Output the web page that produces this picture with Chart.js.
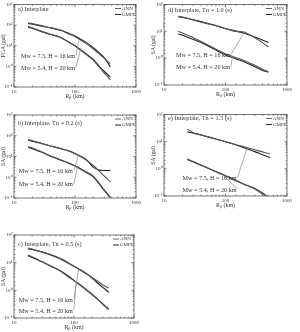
<!DOCTYPE html>
<html>
<head>
<meta charset="utf-8">
<script src="https://cdn.jsdelivr.net/npm/chart.js@4.4.0/dist/chart.umd.min.js"></script>
<style>
  body { margin: 0; background: #fff; width: 300px; height: 332px; position: relative; overflow: hidden; }
  canvas { position: absolute; }
</style>
</head>
<body>
<canvas id="pa" width="150" height="110" style="left:0;top:0"></canvas>
<canvas id="pd" width="150" height="110" style="left:150px;top:0"></canvas>
<canvas id="pb" width="150" height="110" style="left:0;top:110px"></canvas>
<canvas id="pe" width="150" height="110" style="left:150px;top:110px"></canvas>
<canvas id="pc" width="150" height="112" style="left:0;top:220px"></canvas>
<script>
// distances (km)
const rABC = [17, 20, 30, 40, 60, 80, 100, 150, 200, 250, 300, 380];
const rD = [17, 20, 30, 40, 60, 80, 100, 150, 200, 300, 400, 500];
const rE = [24, 30, 40, 60, 80, 100, 150, 200, 300, 400, 530];

// a) PGA
const aAnn75 = [128, 118, 90, 75, 55, 37, 27.5, 13, 7, 4, 2.5, 1.35];
const aGmpe75 = [118, 110, 86, 73, 55, 39, 30, 15, 8, 4.5, 2.7, 0.95];
const aAnn54 = [88, 75, 47, 36, 24.5, 14.5, 9.6, 3.9, 1.95, 0.91, 0.49, 0.22];
const aGmpe54 = [80, 70, 45, 35, 24, 15, 10, 4.2, 2.1, 1.0, 0.58, 0.3];

// b) Tn = 0.2 s
const bAnn75 = [66, 58, 41, 32, 23, 18, 13.5, 7, 3.7, 1.95, 1.15, 0.6];
const bGmpe75 = [61, 55, 40, 32, 23.5, 18.5, 14, 7.5, 3.0, 2.2, 2.1, 2.15];
const bAnn54 = [30, 26, 15.5, 10.7, 6.6, 4.6, 3.5, 1.75, 1.03, 0.46, 0.23, 0.1];
const bGmpe54 = [28, 24, 15, 10.2, 6.5, 4.7, 3.6, 1.85, 1.1, 0.5, 0.25, 0.11];

// c) Tn = 0.5 s
const cAnn75 = [34, 31, 24, 20, 14, 10, 7.2, 4.3, 2.9, 2.1, 1.6, 1.2];
const cGmpe75 = [32, 30, 24, 19.5, 13.5, 9.5, 7.5, 4.5, 2.8, 1.8, 1.3, 0.85];
const cAnn54 = [19, 16.4, 10.5, 7.6, 4.9, 3.1, 2.25, 1.14, 0.69, 0.46, 0.33, 0.21];
const cGmpe54 = [18, 15.5, 10.5, 7.8, 5, 3.3, 2.3, 1.2, 0.72, 0.47, 0.32, 0.2];

// d) Tn = 1.0 s
const dAnn75 = [36, 34, 26.5, 22, 17.5, 15, 12.7, 9.8, 9.5, 5.8, 3.8, 2.6];
const dGmpe75 = [35, 33, 27, 23, 18, 15, 12.5, 10.2, 8.5, 6.2, 4.8, 3.8];
const dAnn54 = [10, 8.6, 5.75, 4.2, 2.6, 1.86, 1.45, 1.03, 0.82, 0.54, 0.39, 0.31];
const dGmpe54 = [8.0, 7.2, 5.0, 3.8, 2.4, 1.7, 1.32, 0.93, 0.74, 0.48, 0.35, 0.3];

// e) Tn = 1.5 s
const eAnn75 = [29, 21.5, 17.8, 13.8, 11.5, 10, 7.7, 6.5, 5, 4.2, 3.5];
const eGmpe75 = [23, 20.5, 17.5, 13.8, 11.5, 10, 7.5, 6, 4.3, 3.3, 2.6];
const eAnn54 = [2.3, 1.85, 1.37, 0.91, 0.68, 0.54, 0.36, 0.27, 0.18, 0.117, 0.09];
const eGmpe54 = [2.2, 1.8, 1.35, 0.92, 0.7, 0.56, 0.37, 0.27, 0.19, 0.13, 0.08];

const legendNames = ['ANN', 'GMPE'];
const note75 = 'Mw = 7.5, H = 16 km';
const note54 = 'Mw = 5.4, H = 20 km';

Chart.defaults.font.family = '"Liberation Serif", serif';
Chart.defaults.font.size = 5;
Chart.defaults.color = '#333';

const SERIF = '"Liberation Serif", serif';
const sup = { '-': '⁻', '0': '⁰', '1': '¹', '2': '²', '3': '³' };
function isMajor(v) {
  const e = Math.log10(v);
  return Math.abs(e - Math.round(e)) < 1e-6;
}
function pow10(v) {
  if (!isMajor(v)) return '';
  return '10' + String(Math.round(Math.log10(v))).split('').map(c => sup[c]).join('');
}

function makeDeco(cfg) {
  return {
    id: 'deco',
    afterDraw(chart) {
      const { ctx, chartArea: a, scales: { x, y } } = chart;
      ctx.save();
      ctx.strokeStyle = '#555';
      ctx.lineWidth = 0.8;
      ctx.strokeRect(a.left, a.top, a.right - a.left, a.bottom - a.top);

      // ticks inside the box
      ctx.beginPath();
      x.ticks.forEach(t => {
        const px = x.getPixelForValue(t.value);
        const L = isMajor(t.value) ? 2.5 : 1.3;
        ctx.moveTo(px, a.bottom); ctx.lineTo(px, a.bottom - L);
        ctx.moveTo(px, a.top); ctx.lineTo(px, a.top + L);
      });
      y.ticks.forEach(t => {
        const py = y.getPixelForValue(t.value);
        const L = isMajor(t.value) ? 2.5 : 1.3;
        ctx.moveTo(a.left, py); ctx.lineTo(a.left + L, py);
        ctx.moveTo(a.right, py); ctx.lineTo(a.right - L, py);
      });
      ctx.stroke();

      ctx.fillStyle = '#333';
      ctx.textBaseline = 'middle';
      ctx.font = '6.3px ' + SERIF;
      ctx.fillText(cfg.title, a.left + 4, a.top + cfg.titleDy);

      // legend
      ctx.font = '5px ' + SERIF;
      legendNames.forEach((name, i) => {
        const ly = a.top + 4 + i * 6;
        const lx = a.right - 21;
        ctx.strokeStyle = i === 0 ? '#666' : '#222';
        ctx.lineWidth = 1;
        ctx.beginPath(); ctx.moveTo(lx, ly); ctx.lineTo(lx + 6, ly); ctx.stroke();
        ctx.fillText(name, lx + 7, ly);
      });

      // notes with leader lines
      ctx.font = '6.2px ' + SERIF;
      ctx.strokeStyle = '#888';
      ctx.lineWidth = 0.7;
      cfg.notes.forEach(n => {
        const tx = x.getPixelForValue(n.at[0]);
        const ty = y.getPixelForValue(n.at[1]);
        ctx.fillText(n.text, tx, ty);
        const w = ctx.measureText(n.text).width;
        ctx.beginPath();
        ctx.moveTo(tx + w + 1, ty - 1);
        ctx.lineTo(x.getPixelForValue(n.to[0]), y.getPixelForValue(n.to[1]));
        ctx.stroke();
      });
      ctx.restore();
    }
  };
}

function series(r, vals, color) {
  return {
    data: r.map((d, i) => ({ x: d, y: vals[i] })),
    borderColor: color,
    borderWidth: 1.1,
    pointRadius: 0,
    tension: 0.25,
    fill: false
  };
}

function panel(id, cfg) {
  new Chart(document.getElementById(id), {
    type: 'line',
    data: {
      datasets: [
        series(cfg.r, cfg.ann75, '#555'),
        series(cfg.r, cfg.gmpe75, '#222'),
        series(cfg.r, cfg.ann54, '#555'),
        series(cfg.r, cfg.gmpe54, '#222')
      ]
    },
    options: {
      responsive: false,
      devicePixelRatio: 1,
      animation: false,
      layout: { padding: cfg.pad },
      plugins: { legend: { display: false }, tooltip: { enabled: false } },
      scales: {
        x: {
          type: 'logarithmic',
          min: 10, max: 1000,
          grid: { display: false, drawTicks: false, tickLength: 0 },
          border: { display: false },
          ticks: { autoSkip: false, maxRotation: 0, padding: 1.5, font: { size: 5 },
                   callback: v => isMajor(v) ? String(Math.round(v)) : '' },
          title: { display: true, text: 'Rₚ (km)', padding: 0, font: { size: 6 } },
          afterFit: s => { s.height = 13; }
        },
        y: {
          type: 'logarithmic',
          min: cfg.ymin, max: cfg.ymax,
          grid: { display: false, drawTicks: false, tickLength: 0 },
          border: { display: false },
          ticks: { autoSkip: false, padding: 1.5, font: { size: 5 }, callback: v => pow10(v) },
          title: { display: true, text: cfg.ytitle, padding: 0, font: { size: 5.5 } },
          afterFit: s => { s.width = 14; }
        }
      }
    },
    plugins: [makeDeco(cfg)]
  });
}

panel('pa', {
  r: rABC, ann75: aAnn75, gmpe75: aGmpe75, ann54: aAnn54, gmpe54: aGmpe54,
  ymin: 0.1, ymax: 1000, ytitle: 'PGA (gal)',
  pad: { top: 3, right: 14, bottom: 10, left: 0 },
  title: 'a) Interplate', titleDy: 5,
  notes: [{ text: note75, at: [13, 3.0], to: [115, 18] }, { text: note54, at: [13, 0.8], to: [125, 8] }]
});
panel('pd', {
  r: rD, ann75: dAnn75, gmpe75: dGmpe75, ann54: dAnn54, gmpe54: dGmpe54,
  ymin: 0.1, ymax: 100, ytitle: 'SA (gal)',
  pad: { top: 3, right: 13, bottom: 12, left: 0 },
  title: 'd) Interplate, Tn = 1.0 (s)', titleDy: 6,
  notes: [{ text: note75, at: [15.6, 1.24], to: [200, 9] }, { text: note54, at: [15.6, 0.45], to: [130, 1.15] }]
});
panel('pb', {
  r: rABC, ann75: bAnn75, gmpe75: bGmpe75, ann54: bAnn54, gmpe54: bGmpe54,
  ymin: 0.1, ymax: 1000, ytitle: 'SA (gal)',
  pad: { top: 5, right: 14, bottom: 9, left: 0 },
  title: 'b) Interplate, Tn = 0.2 (s)', titleDy: 8,
  notes: [{ text: note75, at: [12, 1.85], to: [114, 11.7] }, { text: note54, at: [12, 0.43], to: [110, 3.1] }]
});
panel('pe', {
  r: rE, ann75: eAnn75, gmpe75: eGmpe75, ann54: eAnn54, gmpe54: eGmpe54,
  ymin: 0.1, ymax: 100, ytitle: 'SA (gal)',
  pad: { top: 3, right: 13, bottom: 11, left: 0 },
  title: 'e) Interplate, Tn = 1.5 (s)', titleDy: 4,
  notes: [{ text: note75, at: [20, 0.44], to: [224, 6] }, { text: note54, at: [20, 0.166], to: [90, 0.6] }]
});
panel('pc', {
  r: rABC, ann75: cAnn75, gmpe75: cGmpe75, ann54: cAnn54, gmpe54: cGmpe54,
  ymin: 0.1, ymax: 100, ytitle: 'SA (gal)',
  pad: { top: 15, right: 16, bottom: 1, left: 0 },
  title: 'c) Interplate, Tn = 0.5 (s)', titleDy: 9,
  notes: [{ text: note75, at: [12, 0.45], to: [120, 6] }, { text: note54, at: [12, 0.18], to: [109, 2.05] }]
});
</script>
</body>
</html>
